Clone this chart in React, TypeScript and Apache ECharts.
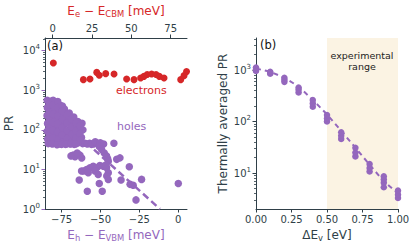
import React, { useEffect, useRef } from 'react';
import * as echarts from 'echarts';

// ---------- Panel (a) data ----------
const electronE = [0.4, 19.5, 23.7, 28.0, 29.6, 33.7, 39.0, 47.0, 51.7, 55.9, 58.0, 60.1, 62.9, 65.7, 67.8, 70.8, 81.4, 83.5, 85.1];
const electronPR = [4900, 1860, 1940, 2840, 2410, 2640, 2580, 1940, 1860, 2050, 2250, 2500, 2590, 2500, 2250, 2050, 1860, 2350, 2970];

const holeE = [
  -84.3, -84.2, -84.4, -84.1, -84.3, -84.0, -83.6,
  -82.0, -81.6, -82.3, -81.8, -82.1, -81.5,
  -79.2, -78.8, -79.5, -78.6, -79.1, -78.9,
  -76.0, -76.4, -75.7, -76.2, -75.8, -76.1,
  -73.2, -72.8, -73.5, -72.9, -73.1, -72.5,
  -70.1, -70.4, -69.8, -70.2, -69.5,
  -67.2, -66.8, -67.4, -66.9, -67.0,
  -64.6, -64.2, -64.8, -64.4,
  -61.9, -61.3, -62.2, -61.5,
  -83.0, -83.1, -82.9, -83.2, -83.0,
  -80.5, -80.6, -80.4, -80.5, -80.7, -80.5,
  -77.5, -77.6, -77.4, -77.5, -77.6, -77.5,
  -74.5, -74.6, -74.4, -74.5, -74.6, -74.4,
  -71.5, -71.6, -71.4, -71.5,
  -68.5, -68.6, -68.4, -68.5,
  -65.8, -65.9, -65.7,
  -63.2, -63.3, -63.1,
  -81.0, -78.0, -75.0, -72.0, -69.0, -66.0, -60.0, -57.0, -54.5, -52.0,
  -58.5, -55.8, -53.4, -50.2, -48.0,
  -50.8, -49.3, -47.6, -46.1, -41.4, -45.4, -39.6, -37.5, -45.0,
  -67.6, -66.4, -63.2, -62.1, -69.0, -65.0,
  -62.2, -61.0, -58.9, -56.8, -54.7, -52.5, -50.4, -48.2, -46.1, -46.5, -57.9, -53.6,
  -45.0, -46.0, -45.0, -51.5, -63.7, -50.8, -36.8, -31.5, -31.0, -29.0, -23.6, -58.5, -48.9, -27.2, 0.0,
];
const holePR = [
  560, 360, 230, 145, 92, 58, 45,
  530, 320, 205, 128, 80, 50,
  505, 300, 190, 115, 72, 46,
  420, 268, 165, 102, 64, 44,
  335, 215, 132, 84, 52, 43,
  268, 168, 106, 67, 44,
  212, 132, 86, 56, 43,
  162, 104, 71, 47,
  147, 100, 64, 45,
  445, 280, 175, 112, 70,
  560, 420, 250, 155, 98, 62,
  520, 370, 228, 142, 88, 56,
  400, 300, 185, 115, 74, 48,
  240, 150, 95, 60,
  190, 120, 76, 50,
  150, 94, 62,
  125, 80, 55,
  44, 42, 43, 44, 45, 44, 46, 46, 44, 45,
  44, 43, 50, 47, 44,
  38, 32, 26, 22, 46, 18.6, 18, 19.6, 16,
  23, 21, 23, 19.5, 22, 26,
  9.1, 9.1, 10, 11, 12, 11, 12.6, 12, 11, 13, 8.3, 9.1,
  8.3, 6.8, 5.6, 7.5, 5.4, 4.4, 5.4, 11.7, 4.2, 4.0, 5.6, 2.8, 2.8, 1.7, 4.4,
];

const holeFitE = [-85.7, -11.8];
const holeFitPR = [415, 1];

// ---------- Panel (b) data ----------
const deltaEv = [0, 0.1, 0.2, 0.3, 0.4, 0.5, 0.6, 0.7, 0.8, 0.9, 1.0];
const avgPR = [
  [960, 1040, 1120],
  [850, 890, 925],
  [590, 650, 710],
  [367, 415, 457],
  [194, 225, 262],
  [100, 115, 134],
  [46, 53, 62],
  [21, 25, 31],
  [10.7, 12.5, 14.9],
  [5.3, 6.5, 7.5, 8.6],
  [3.27, 3.8, 4.55],
];
const avgFitPR = [1070, 930, 710, 480, 263, 138, 66, 31, 14.5, 6.9, 4.0];

// ---------- ticks ----------
const xTicksTop = [0, 25, 50, 75];
const xTicksBottom = [-75, -50, -25, 0];
const yMajorA = [1, 10, 100, 1000, 10000];
const yMajorB = [10, 100, 1000];
const minorMult = [2, 3, 4, 5, 6, 7, 8, 9];
const yMinorA = [1, 10, 100, 1000, 10000].flatMap((d) => minorMult.map((m) => m * d)).filter((v) => v < 21000);
const yMinorB = [1, 10, 100, 1000].flatMap((d) => minorMult.map((m) => m * d)).filter((v) => v > 2 && v < 4200);

const FONT = 'DejaVu Sans';
const INK = '#2f3f48';
const RED = '#d62728';
const PURPLE = '#9467bd';

const minusFmt = (v: number) => (v < 0 ? '\u2212' + Math.abs(v) : String(v));
const logFmt = (v: number) => `{b|10}{s|${Math.round(Math.log10(v))}}`;
const supRich = {
  b: { fontSize: 10, fontFamily: FONT, color: INK },
  s: { fontSize: 7, fontFamily: FONT, color: INK, padding: [0, 0, 7, 0] },
};
const subRich = (color: string, size = 12) => ({
  n: { fontSize: size, fontFamily: FONT, color },
  sub: { fontSize: size * 0.7, fontFamily: FONT, color, padding: [6, 0, 0, 0] },
});

const baseX = (extra: any) => ({
  type: 'value',
  splitLine: { show: false },
  axisLine: { show: true, onZero: false, lineStyle: { color: INK, width: 1 } },
  ...extra,
});

export default function App() {
  const ref = useRef<HTMLDivElement>(null);
  useEffect(() => {
    const chart = echarts.init(ref.current!, null, { renderer: 'svg' });
    const option: any = {
      animation: false,
      backgroundColor: '#ffffff',
      textStyle: { fontFamily: FONT },
      grid: [
        { left: 45, top: 38, width: 142, height: 172 },
        { left: 256, top: 38, width: 142, height: 172 },
      ],
      xAxis: [
        baseX({
          gridIndex: 0,
          position: 'bottom',
          min: -85.7,
          max: 5.6,
          axisTick: { show: true, length: 3.5, customValues: xTicksBottom, lineStyle: { color: INK } },
          axisLabel: { customValues: xTicksBottom, formatter: minusFmt, fontSize: 10, color: INK, margin: 5, fontFamily: FONT },
          name: '{n|E}{sub|h}{n| \u2212 E}{sub|VBM}{n| [meV]}',
          nameLocation: 'middle',
          nameGap: 19,
          nameTextStyle: { rich: subRich(PURPLE) },
        }),
        baseX({
          gridIndex: 0,
          position: 'top',
          min: -4.9,
          max: 85.4,
          axisTick: { show: true, length: 3.5, customValues: xTicksTop, lineStyle: { color: INK } },
          axisLabel: { customValues: xTicksTop, formatter: minusFmt, fontSize: 10, color: INK, margin: 5, fontFamily: FONT },
          name: '{n|E}{sub|e}{n| \u2212 E}{sub|CBM}{n| [meV]}',
          nameLocation: 'middle',
          nameGap: 20,
          nameTextStyle: { rich: subRich(RED) },
        }),
        baseX({
          gridIndex: 1,
          position: 'bottom',
          min: 0,
          max: 1,
          interval: 0.25,
          axisTick: { show: true, length: 3.5, lineStyle: { color: INK } },
          axisLabel: { formatter: (v: number) => v.toFixed(2), fontSize: 10, color: INK, margin: 5, fontFamily: FONT, showMinLabel: true, showMaxLabel: true },
          name: '{n|\u0394E}{sub|v}{n| [eV]}',
          nameLocation: 'middle',
          nameGap: 19,
          nameTextStyle: { rich: subRich(INK) },
        }),
      ],
      yAxis: [
        {
          gridIndex: 0, type: 'log', logBase: 10, min: 1, max: 21000, position: 'left',
          splitLine: { show: false },
          axisLine: { show: true, onZero: false, lineStyle: { color: INK, width: 1 } },
          axisTick: { show: true, length: 3.5, customValues: yMajorA, lineStyle: { color: PURPLE } },
          axisLabel: { customValues: yMajorA, formatter: logFmt, rich: supRich, margin: 5 },
          name: 'PR', nameLocation: 'middle', nameGap: 30, nameRotate: 90,
          nameTextStyle: { fontSize: 12, color: INK, fontFamily: FONT },
        },
        {
          gridIndex: 0, type: 'log', logBase: 10, min: 1, max: 21000, position: 'left',
          splitLine: { show: false },
          axisLine: { show: false, onZero: false },
          axisTick: { show: true, length: 2, customValues: yMinorA, lineStyle: { color: INK, width: 0.8 } },
          axisLabel: { show: false },
        },
        {
          gridIndex: 1, type: 'log', logBase: 10, min: 2, max: 4200, position: 'left',
          splitLine: { show: false },
          axisLine: { show: true, onZero: false, lineStyle: { color: INK, width: 1 } },
          axisTick: { show: true, length: 3.5, customValues: yMajorB, lineStyle: { color: INK } },
          axisLabel: { customValues: yMajorB, formatter: logFmt, rich: supRich, margin: 5 },
          name: 'Thermally averaged PR', nameLocation: 'middle', nameGap: 27, nameRotate: 90,
          nameTextStyle: { fontSize: 12, color: INK, fontFamily: FONT },
        },
        {
          gridIndex: 1, type: 'log', logBase: 10, min: 2, max: 4200, position: 'left',
          splitLine: { show: false },
          axisLine: { show: false, onZero: false },
          axisTick: { show: true, length: 2, customValues: yMinorB, lineStyle: { color: INK, width: 0.8 } },
          axisLabel: { show: false },
        },
      ],
      series: [
        {
          type: 'line', xAxisIndex: 0, yAxisIndex: 0,
          data: holeFitE.map((x, i) => [x, holeFitPR[i]]),
          showSymbol: false, symbol: 'none',
          lineStyle: { color: PURPLE, width: 2.5, type: [7, 4] },
          z: 1,
        },
        {
          type: 'scatter', xAxisIndex: 0, yAxisIndex: 0,
          data: holeE.map((x, i) => [x, holePR[i]]),
          symbolSize: 7.5,
          itemStyle: { color: PURPLE, opacity: 1 },
          z: 2,
        },
        {
          type: 'scatter', xAxisIndex: 1, yAxisIndex: 0,
          data: electronE.map((x, i) => [x, electronPR[i]]),
          symbolSize: 7,
          itemStyle: { color: RED, opacity: 1 },
          z: 2,
        },
        {
          type: 'line', xAxisIndex: 2, yAxisIndex: 2,
          data: deltaEv.map((x, i) => [x, avgFitPR[i]]),
          showSymbol: false, symbol: 'none',
          lineStyle: { color: PURPLE, width: 2, type: [5, 4] },
          markArea: {
            silent: true,
            itemStyle: { color: '#fbf3e3' },
            data: [[{ xAxis: 0.5 }, { xAxis: 1.0 }]],
          },
          z: 1,
        },
        {
          type: 'scatter', xAxisIndex: 2, yAxisIndex: 2,
          data: deltaEv.flatMap((x, i) => avgPR[i].map((v) => [x, v])),
          symbolSize: 6.5,
          itemStyle: { color: PURPLE, opacity: 1 },
          clip: false,
          z: 2,
        },
      ],
      graphic: [
        { type: 'text', x: 47, y: 46, style: { text: '(a)', fontSize: 11.5, fontFamily: FONT, fill: '#111', verticalAlign: 'middle' }, z: 10 },
        { type: 'text', x: 260, y: 45, style: { text: '(b)', fontSize: 11.5, fontFamily: FONT, fill: '#111', verticalAlign: 'middle' }, z: 10 },
        { type: 'text', x: 116, y: 90, style: { text: 'electrons', fontSize: 11, fontFamily: FONT, fill: RED, verticalAlign: 'middle' }, z: 10 },
        { type: 'text', x: 117, y: 126, style: { text: 'holes', fontSize: 11, fontFamily: FONT, fill: PURPLE, verticalAlign: 'middle' }, z: 10 },
        { type: 'text', x: 362, y: 55, style: { text: 'experimental', fontSize: 9.5, fontFamily: FONT, fill: '#222', align: 'center', verticalAlign: 'middle' }, z: 10 },
        { type: 'text', x: 362, y: 66, style: { text: 'range', fontSize: 9.5, fontFamily: FONT, fill: '#222', align: 'center', verticalAlign: 'middle' }, z: 10 },
      ],
    };
    chart.setOption(option);
    return () => chart.dispose();
  }, []);
  return <div ref={ref} style={{ position: 'fixed', left: 0, top: 0, width: 415, height: 247 }} />;
}
